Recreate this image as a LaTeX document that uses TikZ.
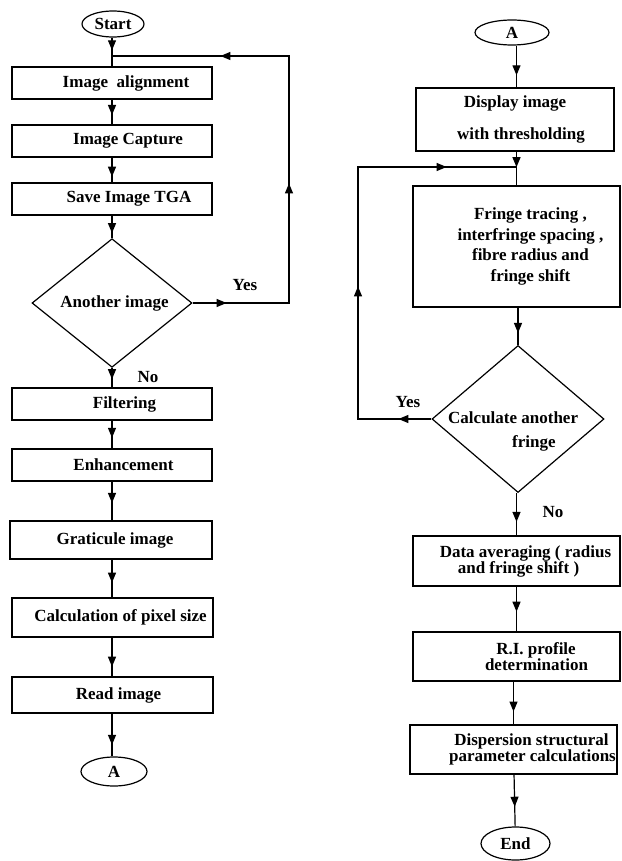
\documentclass[tikz,border=0pt]{standalone}
\usepackage{fontspec}
\setmainfont{Liberation Serif}
\usetikzlibrary{shapes.geometric,arrows.meta,decorations.markings}
\begin{document}
\begin{tikzpicture}[x=1pt,y=-1pt,
  >={Triangle[length=10pt,width=8pt]},
  every node/.style={font=\bfseries\fontsize{17}{20.5}\selectfont},
  box/.style={draw, line width=1.2pt, rectangle, inner sep=0pt, align=center},
  term/.style={draw, line width=1.2pt, ellipse, inner sep=0pt},
  decision/.style={draw, line width=1.2pt, diamond, inner sep=0pt},
  lbl/.style={inner sep=0pt},
  flow/.style={line width=1.2pt, postaction={decorate},
    decoration={markings, mark=at position #1 with {\arrow{>}}}},
]
\useasboundingbox (0,0) rectangle (621,861);

% ---------- left column ----------
\node[term, minimum width=62, minimum height=26] (start) at (113,24) {Start};
\node[box, minimum width=200, minimum height=32] (b1) at (112,83) {\hspace*{28pt}Image\ \ alignment};
\node[box, minimum width=200, minimum height=32] (b2) at (112,141) {\hspace*{32pt}Image Capture};
\node[box, minimum width=200, minimum height=32] (b3) at (112,199) {\hspace*{34pt}Save Image TGA};
\node[decision, minimum width=160, minimum height=120] (d1) at (112,303) {\hspace*{5pt}Another image};
\node[box, minimum width=200, minimum height=32] (b4) at (112,404) {\hspace*{25pt}Filtering};
\node[box, minimum width=200, minimum height=32] (b5) at (112,465) {\hspace*{23pt}Enhancement};
\node[box, minimum width=202, minimum height=38] (b6) at (111,540) {\hspace*{8pt}Graticule image};
\node[box, minimum width=201, minimum height=39] (b7) at (112.5,617.5) {\hspace*{16pt}Calculation of pixel size};
\node[box, minimum width=201, minimum height=36] (b8) at (112.5,695) {\hspace*{12pt}Read image};
\node[term, minimum width=66, minimum height=29] (a1) at (114,771.5) {A};

\node[lbl] (yes1) at (245,285) {Yes};
\node[lbl] (no1) at (148,377) {No};

\draw[flow=0.44] (start.south -| b1) -- (b1);
\draw[flow=0.62] (b1) -- (b2);
\draw[flow=0.77] (b2) -- (b3);
\draw[flow=0.78] (b3) -- (d1);
\draw[flow=0.58] (d1) -- (b4);
\draw[flow=0.62] (b4) -- (b5);
\draw[flow=0.55] (b5.south -| b1) -- (b6.north -| b1);
\draw[flow=0.61] (b6.south -| b1) -- (b7.north -| b1);
\draw[flow=0.75] (b7.south -| b1) -- (b8.north -| b1);
\draw[flow=0.73] (b8.south -| b1) -- (a1.north -| b1);

\coordinate (l1) at (289,303);
\coordinate (l2) at (289,56);
\coordinate (l3) at (112,56);
\draw[line width=1.2pt, postaction={decorate},
  decoration={markings,
    mark=at position 34pt with {\arrow{>}},
    mark=at position 216pt with {\arrow{>}},
    mark=at position 412pt with {\arrow{>}}}]
  (d1.east) -- (l1) -- (l2) -- (l3);

% ---------- right column ----------
\node[term, minimum width=74, minimum height=25] (a2) at (512,32.5) {A};
\node[box, minimum width=198, minimum height=63] (c1) at (515,119.5) {Display image\\[11pt]\hspace*{12pt}with thresholding};
\node[box, minimum width=207, minimum height=121] (c2) at (516.5,246.5)
  {\hspace*{28pt}Fringe tracing ,\\\hspace*{28pt}interfringe spacing ,\\\hspace*{28pt}fibre radius and\\\hspace*{28pt}fringe shift};
\node[decision, minimum width=172, minimum height=147] (d2) at (518,419) {};
\node[lbl, align=left, anchor=west] (t2) at (448,431) {Calculate another\\[3.5pt]\hspace*{64pt}fringe};
\node[box, minimum width=207, minimum height=50] (c3) at (516.5,561)
  {\hspace*{18pt}Data averaging ( radius\\[-4.5pt]\hspace*{4pt}and fringe shift )};
\node[box, minimum width=207, minimum height=49] (c4) at (516.5,656.5)
  {\hspace*{39pt}R.I. profile\\[-4.5pt]\hspace*{40pt}determination};
\node[box, minimum width=207, minimum height=49] (c5) at (513.5,749.5)
  {\hspace*{36pt}Dispersion structural\\[-4.5pt]\hspace*{38pt}parameter calculations};
\node[term, minimum width=69, minimum height=33] (e) at (515.5,843.5) {End};

\node[lbl] (yes2) at (408,402) {Yes};
\node[lbl] (no2) at (553,512) {No};

\draw[flow=0.71] (a2.south -| c2) -- (c1.north -| c2);
\draw[flow=0.46] (c1.south -| c2) -- (c2);
\draw[flow=0.68] (c2.south -| d2) -- (d2);
\draw[flow=0.68] (d2.south -| c3) -- (c3);
\draw[flow=0.56] (c3) -- (c4);
\draw[flow=0.7] (c4.south -| c5) -- (c5);
\draw[flow=0.62] (c5) -- (e);

\coordinate (r1) at (358,419);
\coordinate (r2) at (358,167);
\coordinate (r3) at (516.5,167);
\draw[line width=1.2pt, postaction={decorate},
  decoration={markings,
    mark=at position 33pt with {\arrow{>}},
    mark=at position 206pt with {\arrow{>}},
    mark=at position 414pt with {\arrow{>}}}]
  (d2.west) -- (r1) -- (r2) -- (r3);
\end{tikzpicture}
\end{document}
